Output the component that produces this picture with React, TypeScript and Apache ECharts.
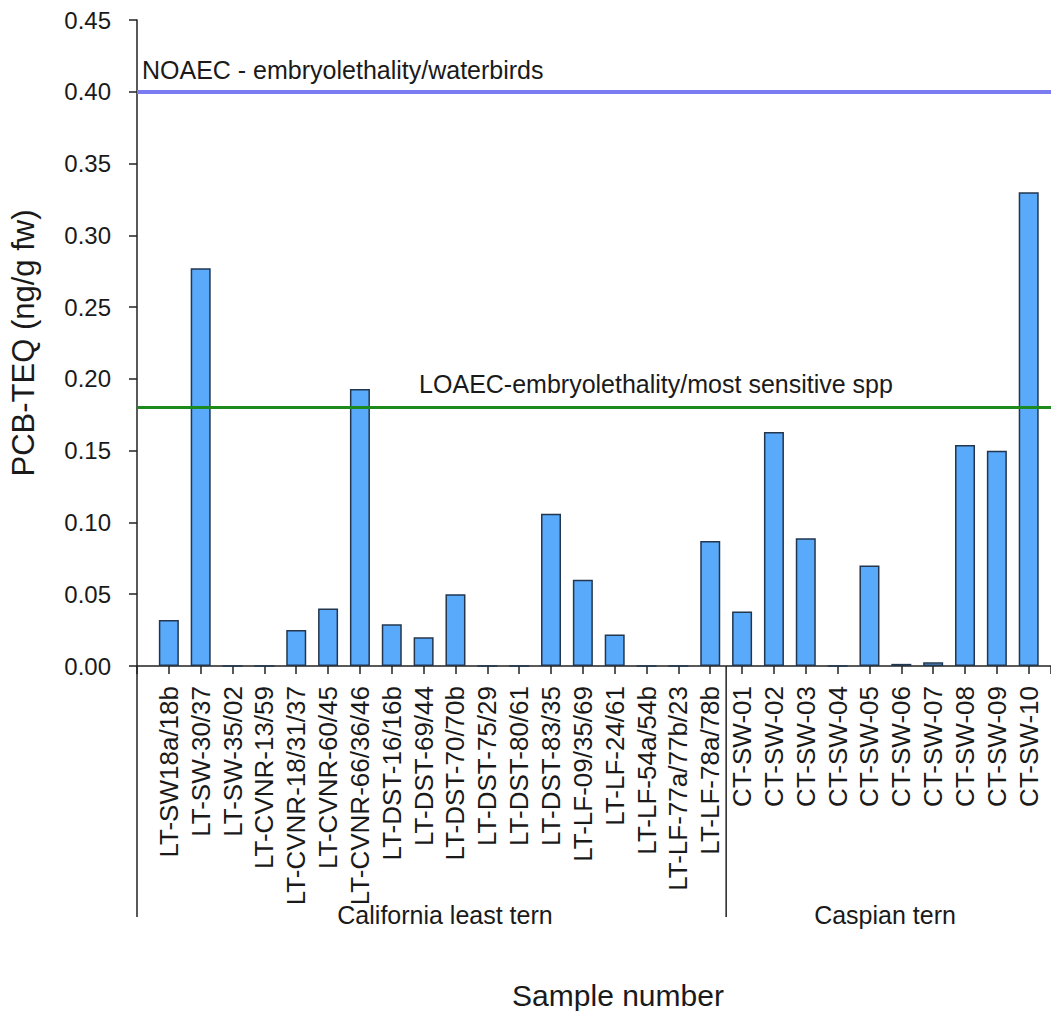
import React, { useEffect, useRef } from "react";
import * as echarts from "echarts";

const categories = [
  "LT-SW18a/18b", "LT-SW-30/37", "LT-SW-35/02", "LT-CVNR-13/59", "LT-CVNR-18/31/37",
  "LT-CVNR-60/45", "LT-CVNR-66/36/46", "LT-DST-16/16b", "LT-DST-69/44", "LT-DST-70/70b",
  "LT-DST-75/29", "LT-DST-80/61", "LT-DST-83/35", "LT-LF-09/35/69", "LT-LF-24/61",
  "LT-LF-54a/54b", "LT-LF-77a/77b/23", "LT-LF-78a/78b",
  "CT-SW-01", "CT-SW-02", "CT-SW-03", "CT-SW-04", "CT-SW-05",
  "CT-SW-06", "CT-SW-07", "CT-SW-08", "CT-SW-09", "CT-SW-10",
];
const values = [
  0.032, 0.277, 0, 0, 0.025, 0.040, 0.193, 0.029, 0.020, 0.050,
  0, 0, 0.106, 0.060, 0.022, 0, 0, 0.087,
  0.038, 0.163, 0.089, 0, 0.070, 0.0015, 0.0026, 0.154, 0.150, 0.330,
];
const groupNames = ["California least tern", "Caspian tern"];
const groupSizes = [18, 10];
const refNames = ["NOAEC - embryolethality/waterbirds", "LOAEC-embryolethality/most sensitive spp"];
const refValues = [0.40, 0.18];
const yTicks = { min: 0, max: 0.45, interval: 0.05 };

const FONT = '"Liberation Sans", Arial, sans-serif';

export default function App() {
  const ref = useRef<HTMLDivElement>(null);
  useEffect(() => {
    const chart = echarts.init(ref.current!, undefined, { renderer: "svg" });
    const xMax = 28.7;
    chart.setOption({
      animation: false,
      backgroundColor: "#ffffff",
      grid: { left: 136, right: 0, top: 20, bottom: 345, containLabel: false },
      xAxis: {
        type: "value",
        min: 0,
        max: xMax,
        interval: 1,
        splitLine: { show: false },
        axisLine: { show: true, onZero: false, lineStyle: { color: "#222", width: 1.5 } },
        axisTick: { show: true, length: 8, lineStyle: { color: "#222", width: 1.5 } },
        axisLabel: {
          rotate: 90,
          margin: 20,
          fontSize: 26,
          fontFamily: FONT,
          color: "#1a1a1a",
          showMinLabel: true,
          showMaxLabel: true,
          formatter: (v: number) => {
            const i = Math.round(v) - 1;
            return Math.abs(v - Math.round(v)) < 1e-6 && categories[i] ? categories[i] : "";
          },
        },
      },
      yAxis: {
        type: "value",
        min: yTicks.min,
        max: yTicks.max,
        interval: yTicks.interval,
        name: "PCB-TEQ (ng/g fw)",
        nameLocation: "middle",
        nameGap: 98,
        nameTextStyle: { fontSize: 31, fontFamily: FONT, color: "#1a1a1a" },
        splitLine: { show: false },
        axisLine: { show: true, lineStyle: { color: "#222", width: 1.5 } },
        axisTick: { show: true, length: 8, lineStyle: { color: "#222", width: 1.5 } },
        axisLabel: {
          margin: 26,
          fontSize: 24,
          fontFamily: FONT,
          color: "#1a1a1a",
          formatter: (v: number) => v.toFixed(2),
        },
      },
      series: [
        {
          type: "bar",
          barWidth: 20,
          data: values.map((v, i) => [i + 1, v]),
          itemStyle: { color: "#5aaafc", borderColor: "#22364d", borderWidth: 1.5 },
          markLine: {
            silent: true,
            symbol: "none",
            label: { show: false },
            data: [
              { yAxis: refValues[0], lineStyle: { color: "#7b7bf2", width: 4, type: "solid" } },
              { yAxis: refValues[1], lineStyle: { color: "#1d8a1d", width: 3, type: "solid" } },
            ],
          },
        },
      ],
    });

    const px = (x: number, y: number) => chart.convertToPixel({ gridIndex: 0 }, [x, y]) as number[];
    const [xLeft, yZero] = px(0, 0);
    const [xSep] = px(groupSizes[0] + 0.5, 0);
    const [, yNo] = px(0, refValues[0]);
    const [, yLo] = px(0, refValues[1]);
    const sepBottom = 917;
    const textStyle = (text: string, size: number) => ({
      text,
      fontSize: size,
      fontFamily: FONT,
      fill: "#1a1a1a",
      align: "center",
      verticalAlign: "middle",
    });
    chart.setOption({
      graphic: [
        { type: "line", shape: { x1: xLeft, y1: yZero, x2: xLeft, y2: sepBottom }, style: { stroke: "#222", lineWidth: 1.5 } },
        { type: "line", shape: { x1: xSep, y1: yZero, x2: xSep, y2: sepBottom }, style: { stroke: "#222", lineWidth: 1.5 } },
        { type: "text", x: 445, y: 915, style: textStyle(groupNames[0], 25) },
        { type: "text", x: 885, y: 915, style: textStyle(groupNames[1], 25) },
        { type: "text", x: 618, y: 995, style: textStyle("Sample number", 30) },
        { type: "text", x: 142, y: yNo - 22, style: { ...textStyle(refNames[0], 25), align: "left" } },
        { type: "text", x: 656, y: yLo - 24, style: textStyle(refNames[1], 25) },
      ],
    });
    return () => chart.dispose();
  }, []);
  return (
    <div
      ref={ref}
      style={{ position: "absolute", left: 0, top: 0, width: 1051, height: 1011 }}
    />
  );
}
